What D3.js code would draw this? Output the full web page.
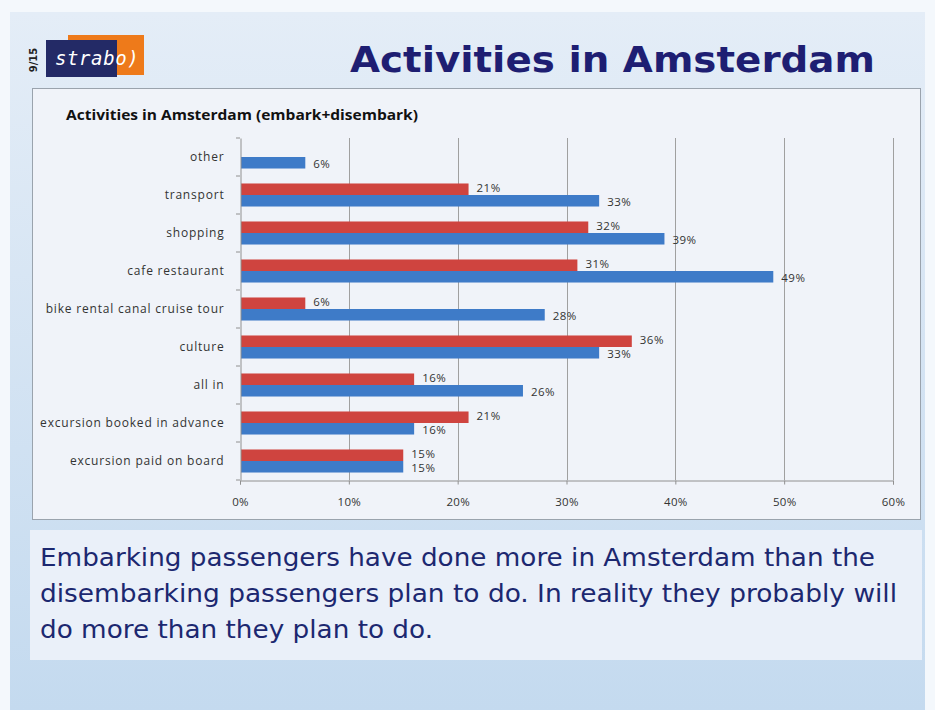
<!DOCTYPE html>
<html><head><meta charset="utf-8">
<script src="https://cdn.jsdelivr.net/npm/d3@7"></script>
<style>body{margin:0;padding:0;background:#fff}svg{display:block}</style>
</head><body>
<svg id="c" width="935" height="710"></svg>
<script>
const categories = ["other","transport","shopping","cafe restaurant","bike rental canal cruise tour","culture","all in","excursion booked in advance","excursion paid on board"];
const disembark = [null,21,32,31,6,36,16,21,15];
const embark = [6,33,39,49,28,33,26,16,15];
const xTicks = [0,10,20,30,40,50,60];
const captionLines = ["Embarking passengers have done more in Amsterdam than the","disembarking passengers plan to do. In reality they probably will","do more than they plan to do."];
const captionWidths = [835,857,393];

const svg = d3.select("#c");
const defs = svg.append("defs");
const g1 = defs.append("linearGradient").attr("id","bg").attr("x1",0).attr("y1",0).attr("x2",0).attr("y2",1);
g1.append("stop").attr("offset","0").attr("stop-color","#e4edf7");
g1.append("stop").attr("offset","1").attr("stop-color","#c4daef");
svg.append("rect").attr("width",935).attr("height",710).attr("fill","#f4f8fc");
svg.append("rect").attr("x",10).attr("y",12).attr("width",915).attr("height",698).attr("fill","url(#bg)");

// logo
svg.append("rect").attr("x",68).attr("y",35).attr("width",76).attr("height",40).attr("fill","#ee7a1a");
svg.append("rect").attr("x",46).attr("y",40).attr("width",71).attr("height",37).attr("fill","#232a66");
svg.append("text").attr("x",55).attr("y",65).attr("font-family","DejaVu Sans Mono").attr("font-style","italic")
  .attr("font-size",19).attr("letter-spacing",0.6).attr("fill","#fff").text("strabo)");
svg.append("text").attr("transform","translate(37,60) rotate(-90)").attr("text-anchor","middle")
  .attr("font-family","DejaVu Sans").attr("font-weight","bold").attr("font-size",10).attr("fill","#222").text("9/15");

// title
svg.append("text").attr("x",350).attr("y",72).attr("font-family","DejaVu Sans")
  .attr("font-weight","bold").attr("font-size",36).attr("textLength",525).attr("lengthAdjust","spacingAndGlyphs")
  .attr("fill","#1e1e72").text("Activities in Amsterdam");

// chart box
svg.append("rect").attr("x",32.5).attr("y",88.5).attr("width",888).attr("height",431).attr("fill","#f0f3f9").attr("stroke","#9aa3ad");
svg.append("text").attr("x",66).attr("y",120).attr("font-family","Open Sans").attr("font-weight","bold")
  .attr("font-size",13.5).attr("textLength",352).attr("lengthAdjust","spacingAndGlyphs")
  .attr("fill","#111").text("Activities in Amsterdam (embark+disembark)");

const x = d3.scaleLinear().domain([0,60]).range([240,893]);
const y = d3.scaleBand().domain(categories).range([138,480]);
const inner = d3.scaleBand().domain(["disembark","embark"]).range([0,y.bandwidth()]).paddingInner(0).paddingOuter(0.65);

const plot = svg.append("g");
// gridlines
plot.selectAll("line.grid").data(xTicks.slice(1)).join("line").attr("class","grid")
  .attr("x1",d=>Math.round(x(d))+0.5).attr("x2",d=>Math.round(x(d))+0.5).attr("y1",138).attr("y2",480)
  .attr("stroke","#a0a0a0").attr("stroke-width",1);

// x axis
const xa = svg.append("g").attr("transform","translate(0,480.5)")
  .call(d3.axisBottom(x).tickValues(xTicks).tickFormat(d=>d+"%").tickSize(4).tickPadding(13));
xa.select(".domain").attr("stroke","#909090");
xa.selectAll(".tick line").attr("stroke","#909090");
xa.selectAll("text").attr("font-family","Open Sans").attr("font-size",11.5).attr("letter-spacing",0.3).attr("fill","#333");

// y axis
const ya = svg.append("g").attr("transform","translate(240.5,0)")
  .call(d3.axisLeft(y).tickSize(0).tickPadding(16));
ya.select(".domain").attr("stroke","#909090");
ya.selectAll("text").attr("font-family","Open Sans").attr("font-size",12).attr("letter-spacing",0.8).attr("fill","#333");
svg.append("g").selectAll("line").data(d3.range(categories.length+1)).join("line")
  .attr("x1",236).attr("x2",240).attr("y1",i=>138+i*y.step()).attr("y2",i=>138+i*y.step()).attr("stroke","#909090");

const rows = [];
categories.forEach((c,i)=>{
  if (disembark[i]!=null) rows.push({c, s:"disembark", v:disembark[i], col:"#cf443f"});
  if (embark[i]!=null) rows.push({c, s:"embark", v:embark[i], col:"#3e7bc8"});
});
plot.selectAll("rect.bar").data(rows).join("rect").attr("class","bar")
  .attr("x",x(0)+1).attr("y",d=>y(d.c)+inner(d.s)).attr("width",d=>x(d.v)-x(0)-1).attr("height",inner.bandwidth())
  .attr("fill",d=>d.col);
plot.selectAll("text.lbl").data(rows).join("text").attr("class","lbl")
  .attr("x",d=>x(d.v)+8).attr("y",d=>y(d.c)+inner(d.s)+inner.bandwidth()/2+(d.s==="embark"?1:-1))
  .attr("dy","0.35em").attr("font-family","Open Sans").attr("font-size",11.5).attr("letter-spacing",0.5).attr("fill","#333")
  .text(d=>d.v+"%");

// caption
svg.append("rect").attr("x",30).attr("y",530).attr("width",892).attr("height",130).attr("fill","#edf2f9").attr("opacity",0.9);
svg.append("g").selectAll("text").data(captionLines).join("text")
  .attr("x",40).attr("y",(d,i)=>566+i*36).attr("font-family","DejaVu Sans").attr("font-size",24.5)
  .attr("textLength",(d,i)=>captionWidths[i]).attr("lengthAdjust","spacingAndGlyphs")
  .attr("fill","#1c2870").text(d=>d);
</script>
</body></html>
